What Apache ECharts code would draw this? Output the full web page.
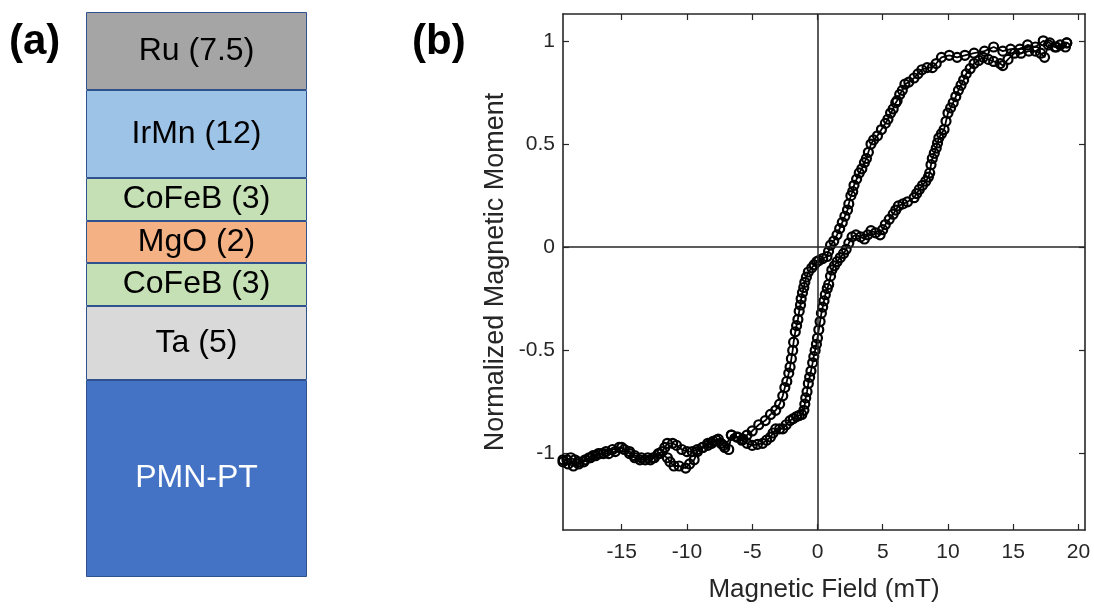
<!DOCTYPE html>
<html>
<head>
<meta charset="utf-8">
<script src="https://cdn.jsdelivr.net/npm/echarts@6/dist/echarts.min.js"></script>
<style>
  html, body { margin: 0; padding: 0; background: #fff; }
  #chart { width: 1094px; height: 608px; }
</style>
</head>
<body>
<div id="chart"></div>
<script>
// (a) layer stack, bottom -> top
const layerNames = ["PMN-PT", "Ta (5)", "CoFeB (3)", "MgO (2)", "CoFeB (3)", "IrMn (12)", "Ru (7.5)"];
const layerHeights = [197, 74, 43, 42, 43, 88, 78];
const layerColors = ["#4472C4", "#D9D9D9", "#C5E0B4", "#F4B183", "#C5E0B4", "#9DC3E6", "#A5A5A5"];

// (b) hysteresis loop, field (mT) / normalized moment
const fieldTicks = [-15, -10, -5, 0, 5, 10, 15, 20];
const momentTicks = [-1, -0.5, 0, 0.5, 1];

const sweepDown = [
  [19.1, 0.99], [18.6, 0.98], [18.2, 0.97], [17.8, 0.99], [17.3, 1.0], [16.7, 0.97], [16.1, 0.98],
  [15.5, 0.96], [14.8, 0.96], [14.2, 0.95], [13.5, 0.97], [12.8, 0.95], [12.0, 0.94], [11.3, 0.93],
  [10.7, 0.92], [10.1, 0.93], [9.5, 0.92], [9.1, 0.89], [8.8, 0.87], [8.4, 0.87], [8.0, 0.86],
  [7.7, 0.84], [7.4, 0.82], [7.0, 0.80], [6.7, 0.79], [6.5, 0.76], [6.3, 0.74], [6.1, 0.71],
  [6.0, 0.70], [5.8, 0.67], [5.6, 0.65], [5.4, 0.62], [5.2, 0.60], [4.9, 0.57], [4.6, 0.54],
  [4.3, 0.52], [4.1, 0.50], [3.9, 0.46], [3.75, 0.43], [3.6, 0.41], [3.4, 0.38], [3.2, 0.36],
  [3.0, 0.33], [2.8, 0.30], [2.7, 0.27], [2.56, 0.25], [2.4, 0.21], [2.3, 0.18], [2.1, 0.15],
  [1.9, 0.12], [1.7, 0.09], [1.5, 0.06], [1.25, 0.03], [1.0, 0.01], [0.85, -0.02], [0.73, -0.045],
  [0.4, -0.055], [0.1, -0.065], [-0.05, -0.07], [-0.25, -0.085], [-0.44, -0.10], [-0.7, -0.12],
  [-0.85, -0.145], [-0.97, -0.17], [-1.05, -0.195], [-1.15, -0.22], [-1.25, -0.25], [-1.3, -0.28],
  [-1.4, -0.31], [-1.5, -0.35], [-1.6, -0.38], [-1.7, -0.41], [-1.83, -0.46], [-1.9, -0.5],
  [-2.0, -0.54], [-2.1, -0.58], [-2.2, -0.61], [-2.35, -0.65], [-2.5, -0.68], [-2.66, -0.72],
  [-2.9, -0.76], [-3.2, -0.79], [-3.6, -0.81], [-4.0, -0.84], [-4.5, -0.86], [-5.0, -0.89],
  [-5.4, -0.91], [-5.7, -0.93], [-6.1, -0.92], [-6.6, -0.91], [-7.1, -0.97], [-7.4, -0.95],
  [-7.75, -0.935], [-8.1, -0.95], [-8.4, -0.95], [-8.8, -0.97], [-9.2, -0.99], [-9.45, -1.03],
  [-9.8, -1.05], [-10.1, -1.07], [-10.6, -1.06], [-11.0, -1.06], [-11.3, -1.04], [-11.5, -1.02],
  [-12.1, -1.0], [-12.5, -1.02], [-12.8, -1.03], [-13.2, -1.03], [-13.6, -1.03], [-14.0, -1.02],
  [-14.4, -1.0], [-15.0, -0.97], [-15.5, -0.99], [-16.0, -1.0], [-16.4, -1.0], [-16.8, -1.0],
  [-17.2, -1.01], [-17.5, -1.02], [-17.9, -1.04], [-18.3, -1.05], [-18.6, -1.03], [-18.9, -1.02],
  [-19.2, -1.03], [-19.5, -1.03]
];

const sweepUp = [
  [-19.5, -1.04], [-19.1, -1.05], [-18.7, -1.06], [-18.3, -1.04], [-17.8, -1.03], [-17.4, -1.02],
  [-17.0, -1.01], [-16.6, -1.0], [-16.2, -0.99], [-15.7, -0.98], [-15.2, -0.97], [-14.8, -0.98],
  [-14.4, -0.99], [-14.0, -1.01], [-13.5, -1.02], [-13.0, -1.02], [-12.6, -1.02], [-12.2, -1.0],
  [-11.9, -0.99], [-11.7, -0.97], [-11.5, -0.95], [-11.1, -0.95], [-10.8, -0.96], [-10.4, -0.98],
  [-10.0, -0.99], [-9.6, -0.99], [-9.2, -0.98], [-8.8, -0.97], [-8.4, -0.96], [-8.0, -0.94],
  [-7.6, -0.93], [-7.2, -0.96], [-6.8, -0.98], [-6.6, -0.91], [-6.2, -0.92], [-5.8, -0.935],
  [-5.4, -0.95], [-5.0, -0.96], [-4.6, -0.955], [-4.2, -0.95], [-3.9, -0.935], [-3.6, -0.92],
  [-3.4, -0.90], [-3.2, -0.88], [-2.9, -0.88], [-2.66, -0.88], [-2.4, -0.86], [-2.1, -0.84],
  [-1.85, -0.83], [-1.6, -0.82], [-1.4, -0.815], [-1.2, -0.81], [-1.04, -0.79], [-0.97, -0.76],
  [-0.9, -0.73], [-0.8, -0.70], [-0.7, -0.66], [-0.6, -0.63], [-0.5, -0.60], [-0.37, -0.56],
  [-0.28, -0.53], [-0.18, -0.50], [-0.08, -0.47], [0, -0.44], [0.1, -0.40], [0.2, -0.36],
  [0.3, -0.32], [0.4, -0.29], [0.5, -0.26], [0.6, -0.23], [0.75, -0.20], [0.86, -0.18],
  [1.0, -0.14], [1.1, -0.11], [1.3, -0.09], [1.5, -0.07], [1.75, -0.05], [2.0, -0.03],
  [2.2, -0.01], [2.4, 0.02], [2.65, 0.05], [2.95, 0.06], [3.3, 0.05], [3.6, 0.04], [3.85, 0.06],
  [4.1, 0.08], [4.45, 0.07], [4.8, 0.06], [5.0, 0.085], [5.2, 0.11], [5.5, 0.135], [5.8, 0.16],
  [6.0, 0.18], [6.2, 0.20], [6.55, 0.21], [6.9, 0.22], [7.4, 0.24], [7.6, 0.26], [7.8, 0.28],
  [8.05, 0.30], [8.3, 0.32], [8.5, 0.34], [8.6, 0.36], [8.7, 0.40], [8.8, 0.43], [8.95, 0.455],
  [9.1, 0.48], [9.2, 0.505], [9.3, 0.53], [9.5, 0.55], [9.7, 0.57], [9.85, 0.61], [10.0, 0.65],
  [10.2, 0.675], [10.4, 0.70], [10.6, 0.73], [10.8, 0.76], [11.0, 0.785], [11.2, 0.81],
  [11.4, 0.84], [11.7, 0.865], [12.0, 0.89], [12.35, 0.905], [12.7, 0.92], [13.1, 0.91],
  [13.5, 0.90], [14.0, 0.89], [14.2, 0.88], [14.6, 0.91], [15.1, 0.94], [15.6, 0.94], [16.2, 0.95],
  [16.7, 0.95], [17.1, 0.94], [17.4, 0.92], [17.7, 0.98], [18.3, 0.97], [19.0, 0.97], [19.1, 0.99]
];

const axisColor = "#262626";
const font = "'Liberation Sans', Arial, Helvetica, sans-serif";

// shared style for the matlab-like box axes
const boxAxis = (ticks, extra) => Object.assign({
  type: "value",
  gridIndex: 0,
  axisLine: { show: true, onZero: false, lineStyle: { color: axisColor, width: 1.6 } },
  axisTick: { show: true, inside: true, length: 6, customValues: ticks, lineStyle: { color: axisColor, width: 1.2 } },
  splitLine: { show: false },
}, extra);

const loopSeries = (name, data) => ({
  name: name,
  type: "line",
  xAxisIndex: 0,
  yAxisIndex: 0,
  data: data,
  symbol: "circle",
  symbolSize: 9,
  showAllSymbol: true,
  itemStyle: { color: "rgba(0,0,0,0)", borderColor: "#000", borderWidth: 2.2 },
  lineStyle: { color: "#000", width: 1.8 },
  z: 3,
});

const option = {
  animation: false,
  title: [
    { text: "(a)", left: 9, top: 21, padding: 0, textStyle: { fontSize: 42, fontWeight: "bold", color: "#000", fontFamily: font } },
    { text: "(b)", left: 412, top: 21, padding: 0, textStyle: { fontSize: 42, fontWeight: "bold", color: "#000", fontFamily: font } },
  ],
  grid: [
    { left: 563, right: 9, top: 14, bottom: 74 },
    { left: 86, width: 221, top: 12, height: 565 },
  ],
  xAxis: [
    boxAxis(fieldTicks, {
      min: -19.5,
      max: 20.5,
      position: "bottom",
      name: "Magnetic Field (mT)",
      nameLocation: "middle",
      nameGap: 47,
      nameTextStyle: { color: axisColor, fontSize: 26, fontFamily: font },
      axisLabel: { customValues: fieldTicks, color: axisColor, fontSize: 21, fontFamily: font, margin: 12 },
    }),
    boxAxis(fieldTicks, { min: -19.5, max: 20.5, position: "top", axisLabel: { show: false } }),
    { type: "category", gridIndex: 1, data: ["stack"], show: false },
  ],
  yAxis: [
    boxAxis(momentTicks, {
      min: -1.37,
      max: 1.13,
      position: "left",
      name: "Normalized Magnetic Moment",
      nameLocation: "middle",
      nameRotate: 90,
      nameGap: 54,
      nameTextStyle: { color: axisColor, fontSize: 27, fontFamily: font },
      axisLabel: { customValues: momentTicks, color: axisColor, fontSize: 21, fontFamily: font, margin: 8 },
    }),
    boxAxis(momentTicks, { min: -1.37, max: 1.13, position: "right", axisLabel: { show: false } }),
    { type: "value", gridIndex: 1, min: 0, max: layerHeights.reduce((a, b) => a + b, 0), show: false },
  ],
  series: [],
};

const initChart = (option) => {
  // stacked bars form the layer schematic
  const layers = layerNames.map((name, index) => ({
    name: name + "_" + index,
    type: "bar",
    xAxisIndex: 2,
    yAxisIndex: 2,
    stack: "film",
    barWidth: "100%",
    barCategoryGap: "0%",
    data: [layerHeights[index]],
    itemStyle: { color: layerColors[index], borderColor: "#2F528F", borderWidth: 1 },
    label: {
      show: true,
      position: "inside",
      formatter: name,
      fontSize: 32,
      fontFamily: font,
      color: index === 0 ? "#fff" : "#000",
    },
    silent: true,
  }));

  const down = loopSeries("down", sweepDown);
  // zero lines across the box
  down.markLine = {
    silent: true,
    symbol: "none",
    label: { show: false },
    lineStyle: { color: axisColor, width: 1.5, type: "solid" },
    data: [{ xAxis: 0 }, { yAxis: 0 }],
  };

  option.series = [...layers, down, loopSeries("up", sweepUp)];

  const chart = echarts.init(document.getElementById("chart"));
  chart.setOption(option);
};

initChart(option);
</script>
</body>
</html>
